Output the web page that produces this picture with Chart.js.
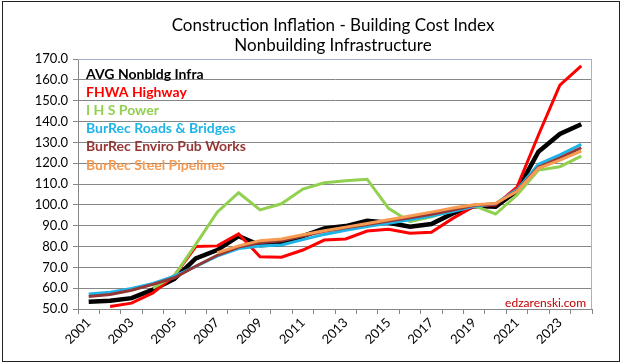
<!DOCTYPE html>
<html>
<head>
<meta charset="utf-8">
<script src="https://cdn.jsdelivr.net/npm/chart.js@4.4.1/dist/chart.umd.min.js"></script>
<style>
  html, body { margin: 0; padding: 0; background: #fff; }
  #wrap { width: 622px; height: 364px; }
</style>
</head>
<body>
<div id="wrap"><canvas id="cci" width="622" height="364"></canvas></div>
<script>
var years = ["2001","2002","2003","2004","2005","2006","2007","2008","2009","2010","2011","2012",
             "2013","2014","2015","2016","2017","2018","2019","2020","2021","2022","2023","2024"];

var avgNonbldg = [53.5, 54.0, 55.2, 59.3, 64.5, 74.3, 78.3, 85.0, 80.6, 81.2, 85.0, 88.7,
                  89.8, 92.3, 91.4, 89.5, 90.8, 95.9, 99.4, 99.1, 106.8, 125.5, 134.0, 138.7];
var fhwaHighway = [null, 51.2, 52.8, 57.7, 66.0, 80.0, 80.3, 86.0, 75.1, 74.9, 78.3, 83.1,
                   83.6, 87.4, 88.3, 86.4, 86.8, 93.5, 99.4, 100.0, 108.5, 133.5, 157.5, 166.7];
var ihsPower = [null, null, null, 60.0, 66.0, 81.0, 96.5, 105.8, 97.6, 100.5, 107.6, 110.6,
                111.6, 112.3, 98.3, 91.9, 94.3, 97.5, 99.5, 95.6, 104.7, 116.7, 118.3, 123.4];
var roadsBridges = [57.2, 58.0, 59.9, 62.3, 65.8, 70.5, 75.4, 79.0, 80.2, 80.7, 83.3, 85.8,
                    87.8, 89.6, 91.2, 92.8, 94.6, 96.8, 99.3, 100.5, 107.3, 119.5, 124.0, 129.0];
var enviroPubWorks = [56.0, 57.0, 59.0, 61.8, 65.0, 70.5, 75.8, 79.7, 81.8, 82.8, 85.0, 87.3,
                      89.0, 90.6, 92.2, 93.8, 95.5, 97.5, 99.8, 100.5, 106.8, 118.0, 122.5, 127.4];
var steelPipelines = [null, null, null, null, null, null, 77.0, 80.3, 82.8, 83.6, 85.6, 87.6,
                      89.3, 91.0, 92.8, 94.6, 96.5, 98.5, 100.0, 100.7, 106.5, 117.5, 121.5, 125.8];

var titleLines = ["Construction Inflation - Building Cost Index", "Nonbuilding Infrastructure"];
var seriesNames = ["AVG Nonbldg Infra", "FHWA Highway", "I H S Power",
                   "BurRec Roads & Bridges", "BurRec Enviro Pub Works", "BurRec Steel Pipelines"];
var seriesColors = ["#000000", "#ff0000", "#92d050", "#1fb4e8", "#953735", "#f79a52"];
var creditText = "edzarenski.com";

function line(i, values, width) {
    return {
        label: seriesNames[i],
        data: values,
        borderColor: seriesColors[i],
        backgroundColor: seriesColors[i],
        borderWidth: width,
        pointRadius: 0,
        tension: 0,
        spanGaps: false,
        order: 6 - i   // excel stacks later series on top
    };
}

// title, in-plot legend text, credit and outer frame
var extras = {
    id: 'extras',
    beforeDatasetsDraw: function(chart) {
        var a = chart.chartArea, c = chart.ctx;
        c.save();
        c.strokeStyle = '#9fb5cf';
        c.lineWidth = 1;
        c.beginPath();
        c.moveTo(a.left, a.top + 0.5);
        c.lineTo(a.right - 0.5, a.top + 0.5);
        c.lineTo(a.right - 0.5, a.bottom);
        c.stroke();
        c.restore();
    },
    afterDraw: function(chart) {
        var c = chart.ctx;
        c.save();
        c.strokeStyle = '#222';
        c.lineWidth = 1;
        c.strokeRect(2.5, 1.5, 617, 360);

        c.fillStyle = '#000';
        c.textAlign = 'center';
        c.textBaseline = 'middle';
        c.font = '17px Lato';
        c.fillText(titleLines[0], 333, 26);
        c.fillText(titleLines[1], 333, 46);

        c.textAlign = 'left';
        c.font = 'bold 14px Lato';
        for (var i = 0; i < seriesNames.length; i++) {
            c.fillStyle = seriesColors[i];
            c.fillText(seriesNames[i], 86, 74 + i * 18.2);
        }

        c.textAlign = 'right';
        c.font = '12px Lato';
        c.fillStyle = '#c00000';
        c.fillText(creditText, 586, 303);
        c.restore();
    }
};

var ctx = document.getElementById("cci");
var myChart = new Chart(ctx, {
    type: 'line',
    data: {
        labels: years,
        datasets: [
            line(0, avgNonbldg, 4.5),
            line(1, fhwaHighway, 3),
            line(2, ihsPower, 3),
            line(3, roadsBridges, 3),
            line(4, enviroPubWorks, 3),
            line(5, steelPipelines, 3)
        ]
    },
    options: {
        responsive: false,
        animation: false,
        layout: { padding: { left: 6, top: 59, right: 30, bottom: 10 } },
        plugins: {
            legend: { display: false },
            title: { display: false },
            tooltip: { enabled: false }
        },
        scales: {
            x: {
                offset: true,
                grid: { offset: true, drawOnChartArea: false, drawTicks: true, tickLength: 5, color: '#868686' },
                border: { color: '#868686' },
                ticks: {
                    autoSkip: false,
                    maxRotation: 45,
                    minRotation: 45,
                    padding: 1,
                    color: '#000',
                    font: { family: 'Lato', size: 13 },
                    callback: function(v, i) { return i % 2 === 0 ? years[i] : ''; }
                },
                afterFit: function(s) { s.height = 45; }
            },
            y: {
                min: 50,
                max: 170,
                grid: { color: '#868686', tickLength: 5 },
                border: { color: '#868686' },
                ticks: {
                    stepSize: 10,
                    padding: 5,
                    color: '#000',
                    font: { family: 'Lato', size: 13 },
                    callback: function(v) { return v.toFixed(1); }
                },
                afterFit: function(s) { s.width = 72; }
            }
        }
    },
    plugins: [extras]
});
</script>
</body>
</html>
